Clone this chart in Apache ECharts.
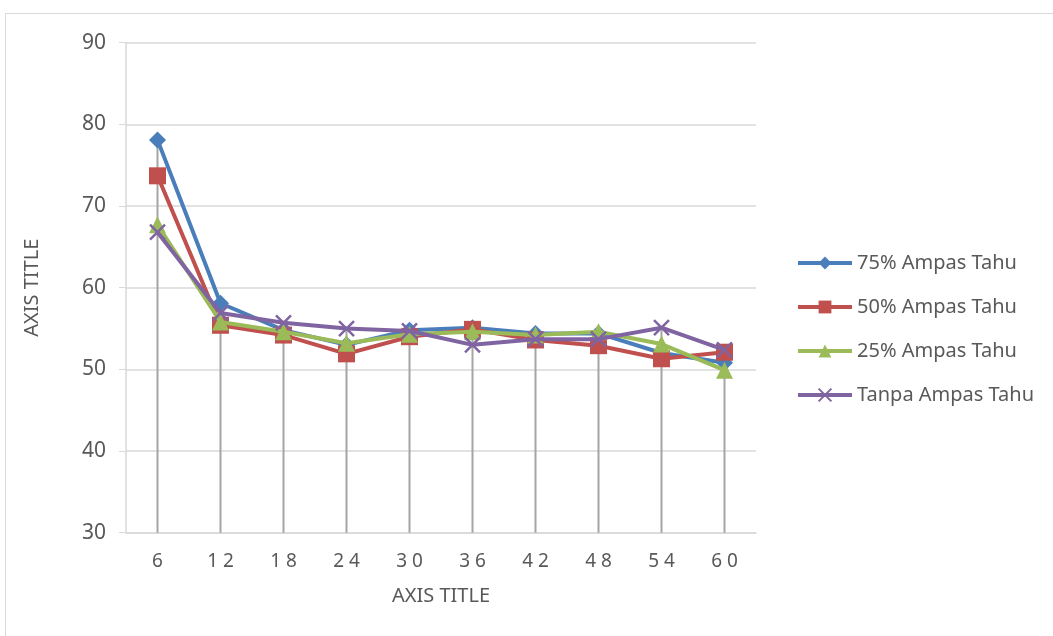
<!DOCTYPE html>
<html><head><meta charset="utf-8">
<script src="https://cdn.jsdelivr.net/npm/echarts@6/dist/echarts.min.js"></script>
<style>html,body{margin:0;padding:0;background:#fff}#c{width:1053px;height:636px}</style>
</head><body><div id="c"></div>
<script>
var categories = ['6','12','18','24','30','36','42','48','54','60'];
var s75 = [78.1, 58.1, 54.8, 53.0, 54.8, 55.1, 54.4, 54.4, 52.0, 50.8];
var s50 = [73.7, 55.4, 54.2, 51.9, 54.0, 54.9, 53.6, 52.9, 51.3, 52.1];
var s25 = [67.7, 55.8, 54.6, 53.2, 54.3, 54.6, 54.2, 54.6, 53.1, 49.9];
var s0  = [66.8, 56.9, 55.7, 55.0, 54.7, 53.0, 53.7, 53.7, 55.1, 52.4];
var seriesNames = ['75% Ampas Tahu','50% Ampas Tahu','25% Ampas Tahu','Tanpa Ampas Tahu'];
var yTicks = {min: 30, max: 90, interval: 10};
var axisTitleX = 'AXIS TITLE', axisTitleY = 'AXIS TITLE';

var dropMax = categories.map(function(_, i){ return Math.max(s75[i], s50[i], s25[i], s0[i]); });
var font = 'Noto Sans';
var txt = '#595959';
var xPath = 'path://M0,0L10,10M10,0L0,10';

var chart = echarts.init(document.getElementById('c'), null, {renderer:'canvas'});
chart.setOption({
  animation: false,
  backgroundColor: '#fff',
  textStyle: {fontFamily: font},
  graphic: [{type:'rect', shape:{x:5.5, y:13.5, width:1100, height:700}, style:{fill:null, stroke:'#d9d9d9', lineWidth:1}, silent:true, z:-10}],
  grid: {left:126, right:297, top:42.7, bottom:103.3, containLabel:false},
  legend: {
    orient:'vertical', left:791, top:248, itemWidth:54, itemHeight:16, itemGap:24,
    lineStyle:{width:4},
    textStyle:{fontSize:20, color:txt, fontFamily:font},
    data: seriesNames
  },
  xAxis: {
    type:'category', data:categories, boundaryGap:true,
    name: axisTitleX, nameLocation:'middle', nameGap:54,
    nameTextStyle:{fontSize:20, color:txt, fontFamily:font},
    axisLine:{lineStyle:{color:'#d9d9d9', width:1.5}},
    axisTick:{show:false},
    axisLabel:{fontSize:19, color:txt, margin:19, formatter:function(v){return v.split('').join(' ');}},
    splitLine:{show:false}
  },
  yAxis: {
    type:'value', min:yTicks.min, max:yTicks.max, interval:yTicks.interval,
    name: axisTitleY, nameLocation:'middle', nameGap:84, nameRotate:90,
    nameTextStyle:{fontSize:20, color:txt, fontFamily:font},
    axisLine:{show:true, lineStyle:{color:'#d9d9d9', width:1.5}},
    axisTick:{show:true, inside:false, length:7, lineStyle:{color:'#d9d9d9'}},
    axisLabel:{fontSize:21, color:txt, margin:20},
    splitLine:{lineStyle:{color:'#d9d9d9', width:1.5}}
  },
  series: [
    {
      type:'custom', name:'drop', silent:true, z:1,
      data: dropMax.map(function(v,i){return [i, v];}),
      renderItem:function(params, api){
        var top = api.coord([api.value(0), api.value(1)]);
        var bot = api.coord([api.value(0), yTicks.min]);
        return {type:'line', shape:{x1:top[0], y1:top[1], x2:bot[0], y2:bot[1]}, style:{stroke:'#a5a5a5', lineWidth:2}};
      }
    },
    {name:seriesNames[0], type:'line', data:s75, z:5, symbol:'diamond', symbolSize:17,
      lineStyle:{color:'#4a7ebb', width:4}, itemStyle:{color:'#4a7ebb'}},
    {name:seriesNames[1], type:'line', data:s50, z:6, symbol:'rect', symbolSize:17,
      lineStyle:{color:'#c0504d', width:4}, itemStyle:{color:'#c0504d'}},
    {name:seriesNames[2], type:'line', data:s25, z:7, symbol:'triangle', symbolSize:17,
      lineStyle:{color:'#9bbb59', width:4}, itemStyle:{color:'#9bbb59'}},
    {name:seriesNames[3], type:'line', data:s0, z:8, symbol:xPath, symbolSize:15,
      lineStyle:{color:'#8064a2', width:4}, itemStyle:{color:'#8064a2', borderColor:'#8064a2', borderWidth:2.5}}
  ]
});
</script></body></html>
